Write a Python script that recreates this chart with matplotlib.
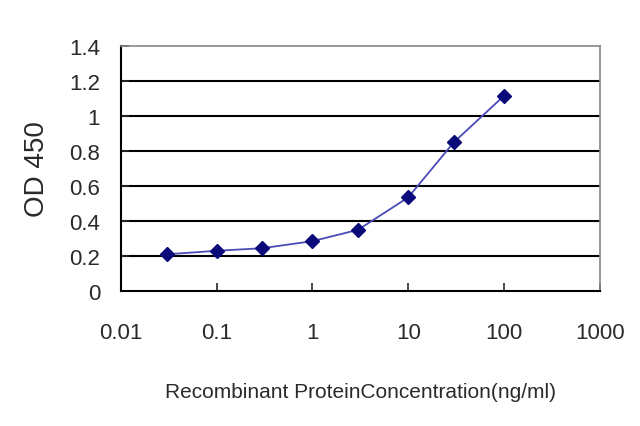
import numpy as np
import matplotlib.pyplot as plt
from matplotlib.ticker import FixedLocator, FixedFormatter

# Data
conc = [0.03, 0.1, 0.3, 1, 3, 10, 30, 100]
od450 = [0.21, 0.23, 0.245, 0.285, 0.35, 0.535, 0.85, 1.115]
x_ticks = [0.01, 0.1, 1, 10, 100, 1000]
x_labels = ["0.01", "0.1", "1", "10", "100", "1000"]
y_ticks = [0, 0.2, 0.4, 0.6, 0.8, 1.0, 1.2, 1.4]
y_labels = ["0", "0.2", "0.4", "0.6", "0.8", "1", "1.2", "1.4"]

plt.rcParams['font.family'] = ['Liberation Sans', 'DejaVu Sans']

fig = plt.figure(figsize=(6.4, 4.27), dpi=100)
ax = fig.add_axes([0.189, 0.316, 0.748, 0.574])

ax.plot(conc, od450, color="#4a4ab8", lw=1.3, marker="D", markersize=7,
        markerfacecolor="#0a0a7a", markeredgecolor="#0a0a7a", zorder=3)

ax.set_xscale("log")
ax.set_xlim(0.01, 1000)
ax.set_ylim(0, 1.4)
ax.xaxis.set_major_locator(FixedLocator(x_ticks))
ax.xaxis.set_major_formatter(FixedFormatter(x_labels))
ax.xaxis.set_minor_locator(FixedLocator([]))
ax.set_yticks(y_ticks)
ax.set_yticklabels(y_labels)

# horizontal grid lines
for y in y_ticks[1:-1]:
    ax.axhline(y, color="black", lw=1.5, zorder=1)

ax.tick_params(axis="both", direction="in", length=6, width=1.2,
               labelsize=16, colors="#2a2a2a")
ax.tick_params(axis="x", pad=22)
ax.tick_params(axis="y", pad=15)
for side in ["left", "bottom"]:
    ax.spines[side].set_color("black")
    ax.spines[side].set_linewidth(1.5)
for side in ["top", "right"]:
    ax.spines[side].set_color("#888888")
    ax.spines[side].set_linewidth(1.2)

ax.set_xlabel("Recombinant ProteinConcentration(ng/ml)", fontsize=15,
              labelpad=28, color="#2a2a2a")
ax.set_ylabel("OD 450", fontsize=20, labelpad=14, color="#2a2a2a")

fig.savefig("out.png", dpi=100)
